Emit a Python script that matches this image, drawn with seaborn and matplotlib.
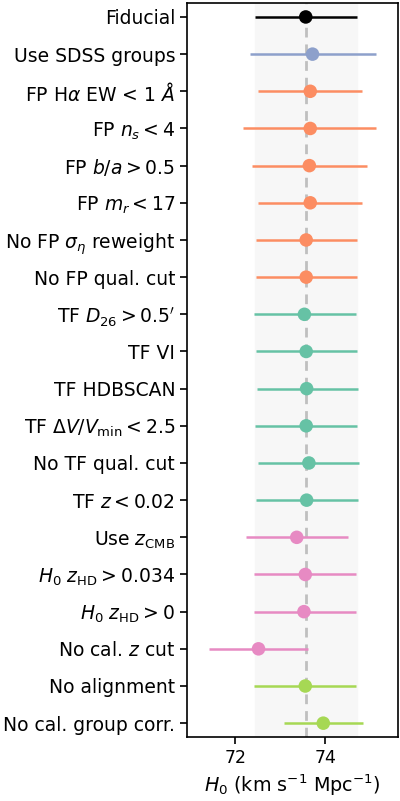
import numpy as np
import pandas as pd
import seaborn as sns
import matplotlib.pyplot as plt

# H0 values, one entry per variant (top to bottom)
labels = [
    "Fiducial",
    "Use SDSS groups",
    r"FP H$\alpha$ EW < 1 $\AA$",
    r"FP $n_s < 4$",
    r"FP $b/a > 0.5$",
    r"FP $m_r < 17$",
    r"No FP $\sigma_\eta$ reweight",
    "No FP qual. cut",
    r"TF $D_{26} > 0.5'$",
    "TF VI",
    "TF HDBSCAN",
    r"TF $\Delta V/V_{\rm min} < 2.5$",
    "No TF qual. cut",
    r"TF $z < 0.02$",
    r"Use $z_{\rm CMB}$",
    r"$H_0$ $z_{\rm HD} > 0.034$",
    r"$H_0$ $z_{\rm HD} > 0$",
    r"No cal. $z$ cut",
    "No alignment",
    "No cal. group corr.",
]
h0 = [73.57, 73.72, 73.67, 73.67, 73.65, 73.67, 73.58, 73.58, 73.54, 73.58,
      73.59, 73.58, 73.64, 73.59, 73.37, 73.56, 73.53, 72.52, 73.56, 73.96]
h0_lo = [72.44, 72.32, 72.50, 72.17, 72.38, 72.50, 72.47, 72.47, 72.42, 72.46,
         72.48, 72.44, 72.50, 72.46, 72.24, 72.43, 72.43, 71.41, 72.43, 73.09]
h0_hi = [74.70, 75.13, 74.82, 75.13, 74.93, 74.83, 74.70, 74.70, 74.69, 74.70,
         74.74, 74.70, 74.76, 74.74, 74.50, 74.69, 74.69, 73.61, 74.69, 74.84]
groups = ["fid", "grp", "FP", "FP", "FP", "FP", "FP", "FP", "TF", "TF",
          "TF", "TF", "TF", "TF", "z", "z", "z", "z", "cal", "cal"]

pal = sns.color_palette("Set2")
group_colors = {"fid": "black", "grp": pal[2], "FP": pal[1], "TF": pal[0],
                "z": pal[3], "cal": pal[4]}

df = pd.DataFrame({"label": labels, "h0": h0, "lo": h0_lo, "hi": h0_hi, "group": groups})
df["y"] = np.arange(len(df))

sns.set_theme(style="ticks")
plt.rcParams["font.family"] = ["DejaVu Sans"]
plt.rcParams["mathtext.fontset"] = "dejavusans"
plt.rcParams["text.color"] = "black"
plt.rcParams["xtick.color"] = "black"
plt.rcParams["ytick.color"] = "black"
plt.rcParams["axes.labelcolor"] = "black"
plt.rcParams["axes.edgecolor"] = "black"

fig = plt.figure(figsize=(4, 8.01), dpi=100)
ax = fig.add_axes([0.4675, 0.08, 0.5285, 0.916])

fid = df.iloc[0]
# fiducial band and central value
ax.axvspan(fid["lo"], fid["hi"], color="0.97", zorder=0)
ax.axvline(fid["h0"], color="0.75", ls=(0, (3.5, 2.5)), lw=2, zorder=1)

for _, row in df.iterrows():
    col = group_colors[row["group"]]
    ax.errorbar(row["h0"], row["y"],
                xerr=[[row["h0"] - row["lo"]], [row["hi"] - row["h0"]]],
                fmt="none", ecolor=col, elinewidth=1.8, capsize=0, zorder=2)

sns.scatterplot(data=df, x="h0", y="y", hue="group", palette=group_colors,
                s=95, edgecolor="none", legend=False, ax=ax, zorder=3)

ax.set_yticks(df["y"])
ax.set_yticklabels(df["label"])
ax.set_ylim(len(df) - 1 + 0.37, -0.37)
ax.set_xlim(70.93, 75.63)
ax.set_xticks([72, 74])
ax.tick_params(axis="y", labelsize=13.5, length=5, width=1.2)
ax.tick_params(axis="x", labelsize=12.5, length=5, width=1.2)
ax.set_xlabel(r"$H_0$ (km s$^{-1}$ Mpc$^{-1}$)", fontsize=13.8)
ax.set_ylabel("")
for sp in ax.spines.values():
    sp.set_linewidth(1.2)
    sp.set_visible(True)

fig.savefig("out.png", dpi=100)
